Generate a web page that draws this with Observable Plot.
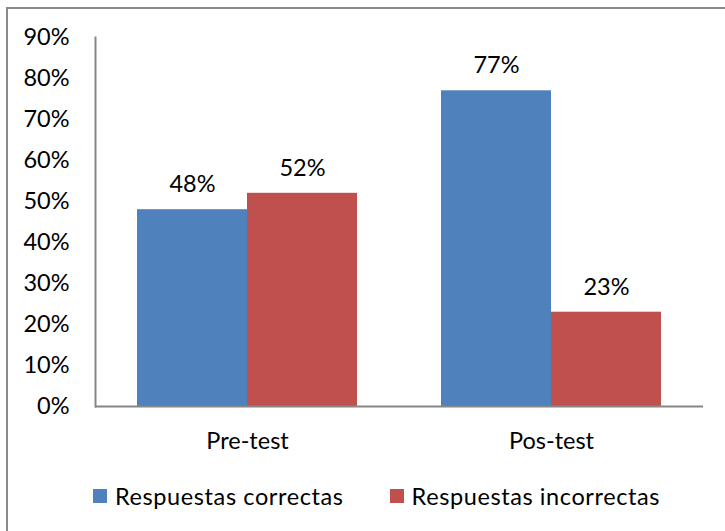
<!DOCTYPE html>
<html><head><meta charset="utf-8">
<script src="https://cdn.jsdelivr.net/npm/d3@7"></script>
<script src="https://cdn.jsdelivr.net/npm/@observablehq/plot@0.6"></script>
<style>
body{margin:0;background:#fff;}
#wrap{position:relative;width:725px;height:531px;overflow:hidden;font-family:Lato,sans-serif;}
#border{position:absolute;left:6px;top:7px;width:800px;height:700px;border:2px solid #898989;box-sizing:border-box;}
#chart{position:absolute;left:0;top:0;}
#legend{position:absolute;top:482px;left:93px;display:flex;align-items:center;font-size:23.5px;letter-spacing:0.6px;white-space:nowrap;color:#000;}
.item{display:flex;align-items:center;}
.sw{display:inline-block;width:14px;height:14px;margin-right:8px;}
</style></head><body>
<div id="wrap"><div id="border"></div><div id="chart"></div><div id="legend"></div></div>
<script>
const categories = ["Pre-test", "Pos-test"];
const series = ["Respuestas correctas", "Respuestas incorrectas"];
const correctas = [0.48, 0.77];
const incorrectas = [0.52, 0.23];
const yTicks = [0, 0.1, 0.2, 0.3, 0.4, 0.5, 0.6, 0.7, 0.8, 0.9];
const colors = ["#4F81BD", "#C0504D"];

const data = categories.flatMap((c, i) => [
  {category: c, series: series[0], value: correctas[i]},
  {category: c, series: series[1], value: incorrectas[i]}
]);

const pct = d => Math.round(d * 100) + "%";
const FS = 23.5;

const chart = Plot.plot({
  width: 725,
  height: 460,
  marginLeft: 95,
  marginRight: 22,
  marginTop: 37,
  marginBottom: 54,
  style: {fontFamily: "Lato, sans-serif", fontSize: FS + "px", color: "#000", background: "transparent", overflow: "visible"},
  fx: {domain: categories, padding: 0},
  x: {domain: series, paddingInner: 0, paddingOuter: 0.381, axis: null},
  y: {domain: [0, 0.9]},
  color: {domain: series, range: colors},
  marks: [
    Plot.barY(data, {fx: "category", x: "series", y: "value", fill: "series"}),
    Plot.text(data, {fx: "category", x: "series", y: "value", text: d => pct(d.value), dy: -25, fontSize: FS, fill: "#000"}),
    Plot.ruleY([0], {stroke: "#868686", strokeWidth: 2}),
    Plot.frame({anchor: "left", facetAnchor: "left", stroke: "#868686", strokeWidth: 2}),
    Plot.axisY({ticks: yTicks, tickSize: 0, tickPadding: 26, tickFormat: pct, label: null, fontSize: FS}),
    Plot.axisFx({anchor: "bottom", tickSize: 0, tickPadding: 26, label: null, fontSize: FS})
  ]
});
document.getElementById("chart").appendChild(chart);

const legend = document.getElementById("legend");
series.forEach((s, i) => {
  const item = document.createElement("div");
  item.className = "item";
  if (i > 0) item.style.marginLeft = "46px";
  const sw = document.createElement("span");
  sw.className = "sw";
  sw.style.background = colors[i];
  const t = document.createElement("span");
  t.textContent = s;
  item.appendChild(sw);
  item.appendChild(t);
  legend.appendChild(item);
});
</script>
</body></html>
